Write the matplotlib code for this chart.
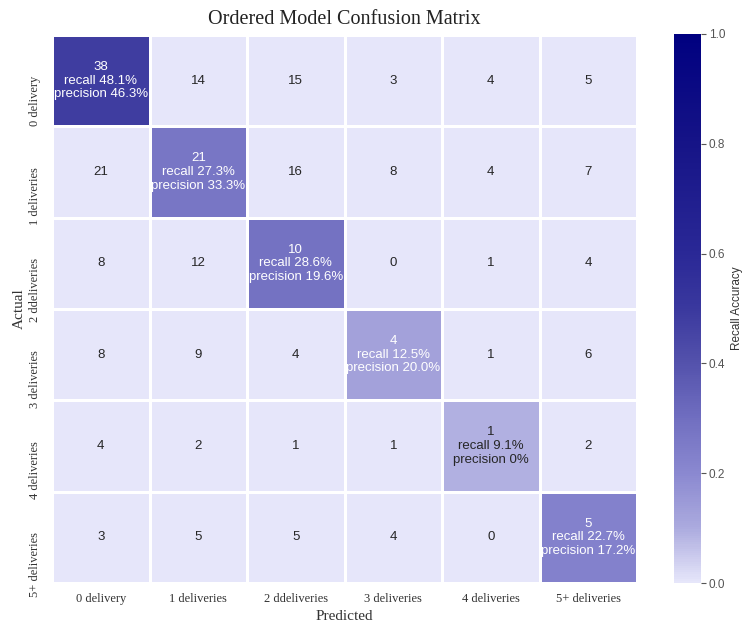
import numpy as np
import matplotlib
matplotlib.use("Agg")
import matplotlib.pyplot as plt
import matplotlib.transforms as mtransforms
import seaborn as sns
from matplotlib.colors import LinearSegmentedColormap

# class names (typos kept as in the original chart)
x_labels = ["0 delivery", "1 deliveries", "2 ddeliveries", "3 deliveries", "4 deliveries", "5+ deliveries"]
y_labels = ["0 delivery", "1 deliveries", "2 ddeliveries", "3 deliveries", "4 deliveries", "5+ deliveries"]

counts = np.array([
    [38, 14, 15, 3, 4, 5],
    [21, 21, 16, 8, 4, 7],
    [8, 12, 10, 0, 1, 4],
    [8, 9, 4, 4, 1, 6],
    [4, 2, 1, 1, 1, 2],
    [3, 5, 5, 4, 0, 5],
])
recall = [48.1, 27.3, 28.6, 12.5, 9.1, 22.7]
precision = ["46.3%", "33.3%", "19.6%", "20.0%", "0%", "17.2%"]

# colour only the diagonal by recall, everything else sits at 0
n = len(x_labels)
color_vals = np.zeros((n, n))
annot = counts.astype(str).astype(object)
for i in range(n):
    color_vals[i, i] = recall[i] / 100
    annot[i, i] = f"{counts[i, i]}\nrecall {recall[i]}%\nprecision {precision[i]}"

stops = [
    (0.0, (230, 230, 250)),
    (0.1, (171, 170, 222)),
    (0.2, (138, 136, 208)),
    (0.3, (112, 110, 192)),
    (0.4, (84, 82, 172)),
    (0.5, (58, 56, 158)),
    (0.6, (42, 40, 150)),
    (0.8, (22, 20, 135)),
    (1.0, (0, 0, 128)),
]
cmap = LinearSegmentedColormap.from_list(
    "recall", [(p, tuple(c / 255 for c in rgb)) for p, rgb in stops])

fig = plt.figure(figsize=(7.45, 6.22), dpi=100)
ax = fig.add_axes([52 / 745, 1 - 583 / 622, 585 / 745, 548 / 622])
cax = fig.add_axes([674 / 745, 1 - 583 / 622, 27 / 745, 549 / 622])

sns.heatmap(color_vals, annot=annot, fmt="", cmap=cmap, vmin=0, vmax=1,
            linewidths=1, linecolor="white", ax=ax, cbar_ax=cax,
            xticklabels=x_labels, yticklabels=y_labels,
            annot_kws={"fontsize": 9.5, "family": "Liberation Sans", "linespacing": 1.2})

serif = "Liberation Serif"
ax.set_title("Ordered Model Confusion Matrix", fontsize=14.5, family=serif, color="#222222", pad=8)
ax.set_xlabel("Predicted", fontsize=11, family=serif, color="#333333", labelpad=4)
ax.set_ylabel("Actual", fontsize=11, family=serif, color="#333333", labelpad=2)
ax.tick_params(length=0, pad=8)
ax.tick_params(axis="x", pad=7)
plt.setp(ax.get_xticklabels(), rotation=0, fontsize=9, family=serif, color="#333333")
plt.setp(ax.get_yticklabels(), rotation=90, rotation_mode="anchor", ha="right", va="bottom",
         fontsize=9, family=serif, color="#333333")
# nudge the row labels up a little
shift = mtransforms.ScaledTranslation(0, 5 / 100, fig.dpi_scale_trans)
for t in ax.get_yticklabels():
    t.set_transform(t.get_transform() + shift)

cax.tick_params(labelsize=8.5, colors="#555555", length=3.5, width=0.8, pad=2)
for t in cax.get_yticklabels():
    t.set_family("Liberation Sans")
cax.set_ylabel("Recall Accuracy", fontsize=8.5, family="Liberation Sans", color="#333333", labelpad=4)

fig.savefig("out.png", dpi=100)
